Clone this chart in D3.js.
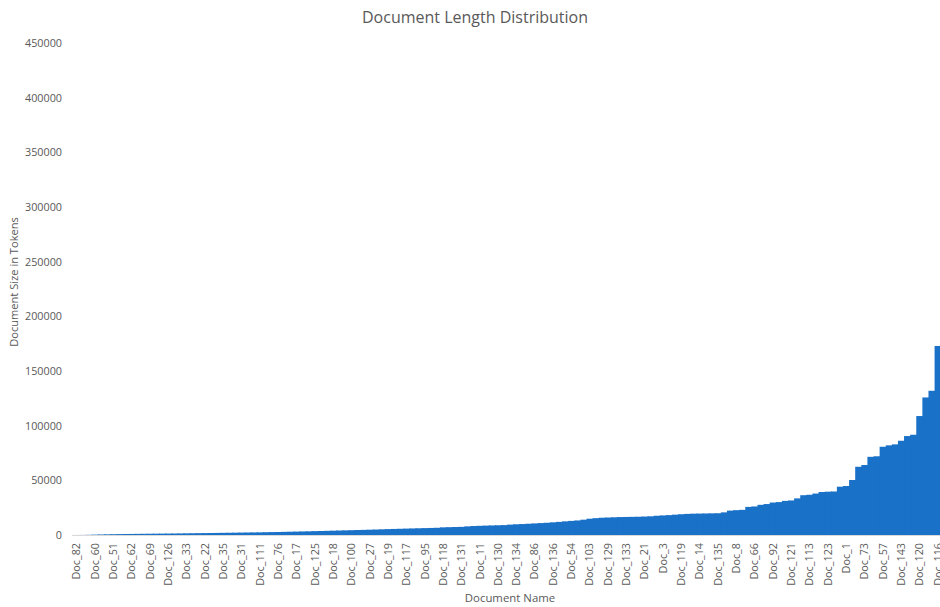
<!DOCTYPE html>
<html>
<head>
<meta charset="utf-8">
<script src="https://cdn.jsdelivr.net/npm/d3@7"></script>
<style>
  html, body { margin: 0; padding: 0; background: #fff; overflow: hidden; }
  svg { display: block; }
  text { font-family: "Open Sans", sans-serif; fill: #595959; }
</style>
</head>
<body>
<script>
// ---- data ----
const chartTitle = "Document Length Distribution";
const xAxisTitle = "Document Name";
const yAxisTitle = "Document Size in Tokens";

// visible category labels (every 3rd document is labelled)
const tickLabels = [
  "Doc_82","Doc_60","Doc_51","Doc_62","Doc_69","Doc_126","Doc_33","Doc_22","Doc_35","Doc_31",
  "Doc_111","Doc_76","Doc_17","Doc_125","Doc_18","Doc_100","Doc_27","Doc_19","Doc_117","Doc_95",
  "Doc_118","Doc_131","Doc_11","Doc_130","Doc_134","Doc_86","Doc_136","Doc_54","Doc_103","Doc_129",
  "Doc_133","Doc_21","Doc_3","Doc_119","Doc_14","Doc_135","Doc_8","Doc_66","Doc_92","Doc_121",
  "Doc_113","Doc_123","Doc_1","Doc_73","Doc_57","Doc_143","Doc_120","Doc_116"
];
const labelEvery = 3;

// document sizes in tokens, sorted ascending (one per document)
const tokens = [
  30, 80, 180, 350, 500, 620, 720, 820, 900, 970,
  1040, 1100, 1150, 1200, 1260, 1320, 1380, 1450, 1520, 1600,
  1680, 1750, 1820, 1900, 1980, 2050, 2120, 2200, 2280, 2350,
  2420, 2550, 2650, 2750, 2880, 3000, 3120, 3250, 3380, 3520,
  3660, 3800, 3950, 4100, 4250, 4400, 4550, 4700, 4850, 5000,
  5200, 5400, 5550, 5700, 5850, 6000, 6150, 6300, 6450, 6600,
  7000, 7150, 7300, 7450, 7900, 8200, 8400, 8600, 8750, 8900,
  9050, 9500, 9800, 10000, 10300, 10600, 10900, 11200, 11600, 12000,
  12500, 12900, 13300, 14000, 14900, 15400, 15800, 16000, 16200, 16400,
  16500, 16600, 16700, 16900, 17100, 17600, 17900, 18200, 18600, 19000,
  19300, 19500, 19600, 19700, 19800, 19900, 20700, 22300, 22700, 23000,
  25700, 26100, 27600, 28300, 29700, 30100, 31200, 31600, 33500, 36400,
  36800, 37900, 39300, 39600, 39800, 44200, 44800, 50300, 62400, 64000,
  71500, 72000, 80700, 82000, 82900, 86200, 90500, 91700, 108800, 125800,
  131900, 172900, 415000
];

const yTicks = [0, 50000, 100000, 150000, 200000, 250000, 300000, 350000, 400000, 450000];

// ---- layout ----
const W = 960, H = 607;
const plot = { left: 73.5, right: 946.8, top: 43, bottom: 535 };

const svg = d3.select("body").append("svg").attr("width", W).attr("height", H);

const x = d3.scaleBand()
  .domain(d3.range(tokens.length))
  .range([plot.left, plot.right])
  .padding(0);

const y = d3.scaleLinear()
  .domain([0, d3.max(yTicks)])
  .range([plot.bottom, plot.top]);

// x axis line drawn first, bars on top
const xAxis = d3.axisBottom(x)
  .tickValues(d3.range(0, tokens.length, labelEvery).filter(i => i / labelEvery < tickLabels.length))
  .tickFormat(i => tickLabels[i / labelEvery])
  .tickSize(0);
const xg = svg.append("g").attr("transform", `translate(0,${plot.bottom})`).call(xAxis);
xg.select(".domain").attr("stroke", "#d9d9d9").attr("stroke-width", 1)
  .attr("d", `M${plot.left - 1.5},0.5H${plot.right}`);
xg.selectAll("text")
  .style("font-size", "10.8px")
  .attr("fill", "#595959")
  .attr("transform", "rotate(-90)")
  .attr("text-anchor", "end")
  .attr("x", -8)
  .attr("y", 0)
  .attr("dy", "0.36em");

// bars (each overlaps the next by >1px so no seams appear)
svg.append("g")
  .selectAll("rect")
  .data(tokens)
  .join("rect")
  .attr("x", (d, i) => x(i))
  .attr("width", x.bandwidth() + 1.2)
  .attr("y", d => y(d))
  .attr("height", d => y(0) - y(d))
  .attr("fill", "#1a71c8");

// y axis (labels only)
const yAxis = d3.axisLeft(y).tickValues(yTicks).tickFormat(d3.format("d")).tickSize(0).tickPadding(0);
const yg = svg.append("g").attr("transform", `translate(${62},0)`).call(yAxis);
yg.select(".domain").remove();
yg.selectAll("text").style("font-size", "10.8px").attr("fill", "#595959");

// titles
svg.append("text")
  .attr("x", 475).attr("y", 23)
  .attr("text-anchor", "middle")
  .style("font-size", "16px")
  .text(chartTitle);

svg.append("text")
  .attr("x", 510).attr("y", 602)
  .attr("text-anchor", "middle")
  .style("font-size", "11.4px")
  .text(xAxisTitle);

svg.append("text")
  .attr("transform", `translate(18,282) rotate(-90)`)
  .attr("text-anchor", "middle")
  .style("font-size", "11.1px")
  .text(yAxisTitle);
</script>
</body>
</html>
